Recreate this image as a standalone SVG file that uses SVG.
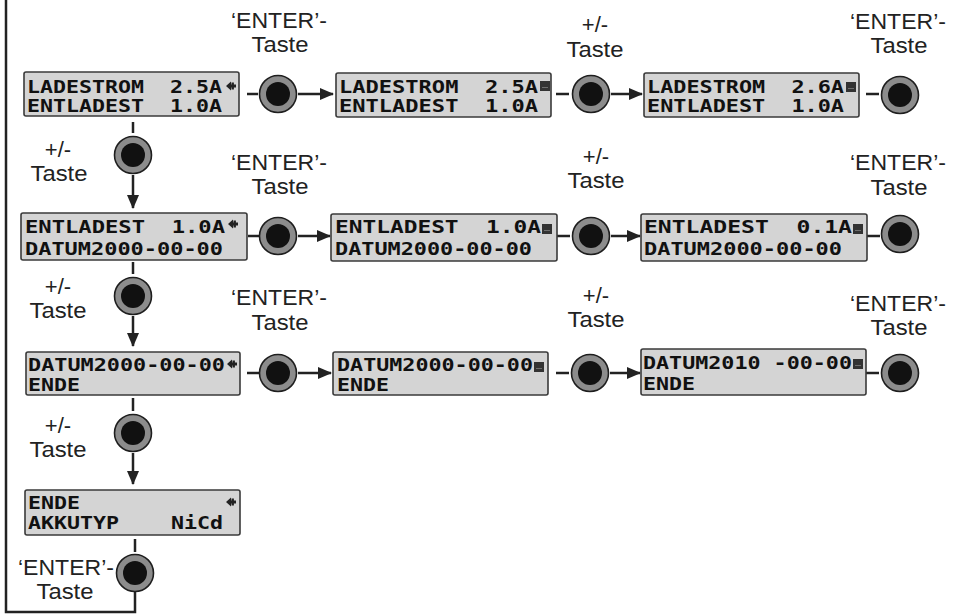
<svg xmlns="http://www.w3.org/2000/svg" xmlns:xlink="http://www.w3.org/1999/xlink" width="960" height="615" viewBox="0 0 960 615">
<style>
.lcd{fill:#d4d4d4;stroke:#3a3a3a;stroke-width:1.6}
.lt{font-family:"DejaVu Sans Mono","Liberation Mono",monospace;font-weight:bold;font-size:18.5px;fill:#111}
.lbl{font-family:"Liberation Sans",Arial,sans-serif;font-size:22px;fill:#222;text-anchor:middle}
.bo{fill:#8c8c8c;stroke:#1e1e1e;stroke-width:1.6}
.bi{fill:#111}
.ln{stroke:#222;stroke-width:2.5;fill:none}
.ar{stroke:#222;stroke-width:2.5;fill:none;marker-end:url(#ah)}
</style>
<defs>
<marker id="ah" markerUnits="userSpaceOnUse" markerWidth="14" markerHeight="12" refX="13" refY="6" orient="auto" viewBox="0 0 14 12">
<path d="M0,0 L14,6 L0,12 Z" fill="#222"/>
</marker>
<g id="cur"><path d="M0,0 L5,-4.5 L5,-1.4 L10,-1.4 L10,1.4 L5,1.4 L5,4.5 Z" fill="#222"/><rect x="5.5" y="-3.5" width="2.4" height="7" fill="#222"/></g>
<g id="sq"><rect x="0" y="0" width="10" height="10" fill="#333"/><rect x="2.5" y="6" width="1" height="1" fill="#aaa"/><rect x="4.5" y="6" width="1" height="1" fill="#aaa"/><rect x="6.5" y="6" width="1" height="1" fill="#aaa"/></g>
<g id="btn"><circle r="18.5" class="bo"/><circle r="12" class="bi"/></g>
</defs>

<g id="connectors">
<path class="ln" d="M6,0 V612 H135 V592"/>
<line class="ln" x1="247" y1="94" x2="258" y2="94"/>
<line class="ar" x1="298" y1="94" x2="333" y2="94"/>
<line class="ln" x1="556" y1="94" x2="569" y2="94"/>
<line class="ar" x1="611" y1="94" x2="642" y2="94"/>
<line class="ln" x1="866" y1="94" x2="879" y2="94"/>
<line class="ln" x1="133" y1="122" x2="133" y2="133"/>
<line class="ar" x1="133" y1="175" x2="133" y2="208"/>
<line class="ln" x1="248" y1="236" x2="259" y2="236"/>
<line class="ar" x1="298" y1="236" x2="330" y2="236"/>
<line class="ln" x1="557" y1="236" x2="570" y2="236"/>
<line class="ar" x1="611" y1="236" x2="640" y2="236"/>
<line class="ln" x1="867" y1="236" x2="880" y2="236"/>
<line class="ln" x1="133" y1="262" x2="133" y2="274"/>
<line class="ar" x1="133" y1="316" x2="133" y2="346"/>
<line class="ln" x1="247" y1="373" x2="259" y2="373"/>
<line class="ar" x1="298" y1="373" x2="331" y2="373"/>
<line class="ln" x1="556" y1="373" x2="569" y2="373"/>
<line class="ar" x1="610" y1="373" x2="640" y2="373"/>
<line class="ln" x1="866" y1="373" x2="879" y2="373"/>
<line class="ln" x1="133" y1="398" x2="133" y2="411"/>
<line class="ar" x1="133" y1="453" x2="133" y2="484"/>
<line class="ln" x1="135" y1="539" x2="135" y2="552"/>
</g>

<g id="lcd-r1c1"><rect class="lcd" x="24" y="72" width="215" height="44" rx="2"/>
<text class="lt" x="27" y="93" textLength="195" lengthAdjust="spacingAndGlyphs" xml:space="preserve">LADESTROM  2.5A</text>
<text class="lt" x="27" y="112" textLength="195" lengthAdjust="spacingAndGlyphs" xml:space="preserve">ENTLADEST  1.0A</text>
<use xlink:href="#cur" x="226" y="86"/></g>
<g id="btn-r1c1"><use xlink:href="#btn" x="278" y="94"/>
<text class="lbl" x="279" y="28" textLength="96" lengthAdjust="spacingAndGlyphs">‘ENTER’-</text><text class="lbl" x="280" y="52" textLength="57" lengthAdjust="spacingAndGlyphs">Taste</text></g>
<g id="lcd-r1c2"><rect class="lcd" x="336" y="73" width="215" height="44" rx="2"/>
<text class="lt" x="339" y="93" textLength="199" lengthAdjust="spacingAndGlyphs" xml:space="preserve">LADESTROM  2.5A</text>
<text class="lt" x="339" y="112" textLength="199" lengthAdjust="spacingAndGlyphs" xml:space="preserve">ENTLADEST  1.0A</text>
<use xlink:href="#sq" x="540" y="81"/></g>
<g id="btn-r1c2"><use xlink:href="#btn" x="591" y="94"/>
<text class="lbl" x="595" y="32">+/-</text><text class="lbl" x="595" y="57" textLength="57" lengthAdjust="spacingAndGlyphs">Taste</text></g>
<g id="lcd-r1c3"><rect class="lcd" x="644" y="73" width="215" height="44" rx="2"/>
<text class="lt" x="647" y="93" textLength="197" lengthAdjust="spacingAndGlyphs" xml:space="preserve">LADESTROM  2.6A</text>
<text class="lt" x="647" y="112" textLength="197" lengthAdjust="spacingAndGlyphs" xml:space="preserve">ENTLADEST  1.0A</text>
<use xlink:href="#sq" x="846" y="82"/></g>
<g id="btn-r1c3"><use xlink:href="#btn" x="900" y="95"/>
<text class="lbl" x="898" y="29" textLength="96" lengthAdjust="spacingAndGlyphs">‘ENTER’-</text><text class="lbl" x="899" y="53" textLength="57" lengthAdjust="spacingAndGlyphs">Taste</text></g>

<g id="btn-v1"><use xlink:href="#btn" x="133" y="155"/>
<text class="lbl" x="58" y="157">+/-</text><text class="lbl" x="59" y="181" textLength="57" lengthAdjust="spacingAndGlyphs">Taste</text></g>

<g id="lcd-r2c1"><rect class="lcd" x="21" y="213" width="226" height="47" rx="2"/>
<text class="lt" x="25" y="233" textLength="200" lengthAdjust="spacingAndGlyphs" xml:space="preserve">ENTLADEST  1.0A</text>
<text class="lt" x="25" y="255" textLength="198" lengthAdjust="spacingAndGlyphs">DATUM2000-00-00</text>
<use xlink:href="#cur" x="228" y="224"/></g>
<g id="btn-r2c1"><use xlink:href="#btn" x="278" y="236"/>
<text class="lbl" x="279" y="170" textLength="96" lengthAdjust="spacingAndGlyphs">‘ENTER’-</text><text class="lbl" x="280" y="194" textLength="57" lengthAdjust="spacingAndGlyphs">Taste</text></g>
<g id="lcd-r2c2"><rect class="lcd" x="331" y="214" width="226" height="47" rx="2"/>
<text class="lt" x="335" y="233" textLength="206" lengthAdjust="spacingAndGlyphs" xml:space="preserve">ENTLADEST  1.0A</text>
<text class="lt" x="335" y="255" textLength="197" lengthAdjust="spacingAndGlyphs">DATUM2000-00-00</text>
<use xlink:href="#sq" x="542" y="224"/></g>
<g id="btn-r2c2"><use xlink:href="#btn" x="591" y="236"/>
<text class="lbl" x="596" y="164">+/-</text><text class="lbl" x="596" y="188" textLength="57" lengthAdjust="spacingAndGlyphs">Taste</text></g>
<g id="lcd-r2c3"><rect class="lcd" x="641" y="214" width="226" height="47" rx="2"/>
<text class="lt" x="644" y="233" textLength="208" lengthAdjust="spacingAndGlyphs" xml:space="preserve">ENTLADEST  0.1A</text>
<text class="lt" x="644" y="255" textLength="198" lengthAdjust="spacingAndGlyphs">DATUM2000-00-00</text>
<use xlink:href="#sq" x="853" y="224"/></g>
<g id="btn-r2c3"><use xlink:href="#btn" x="900" y="234"/>
<text class="lbl" x="898" y="170" textLength="96" lengthAdjust="spacingAndGlyphs">‘ENTER’-</text><text class="lbl" x="899" y="195" textLength="57" lengthAdjust="spacingAndGlyphs">Taste</text></g>

<g id="btn-v2"><use xlink:href="#btn" x="133" y="296"/>
<text class="lbl" x="58" y="294">+/-</text><text class="lbl" x="58" y="318" textLength="57" lengthAdjust="spacingAndGlyphs">Taste</text></g>

<g id="lcd-r3c1"><rect class="lcd" x="26" y="352" width="214" height="43" rx="2"/>
<text class="lt" x="28" y="371" textLength="197" lengthAdjust="spacingAndGlyphs">DATUM2000-00-00</text>
<text class="lt" x="28" y="391" textLength="52" lengthAdjust="spacingAndGlyphs">ENDE</text>
<use xlink:href="#cur" x="227" y="364"/></g>
<g id="btn-r3c1"><use xlink:href="#btn" x="278" y="373"/>
<text class="lbl" x="279" y="305" textLength="96" lengthAdjust="spacingAndGlyphs">‘ENTER’-</text><text class="lbl" x="280" y="330" textLength="57" lengthAdjust="spacingAndGlyphs">Taste</text></g>
<g id="lcd-r3c2"><rect class="lcd" x="333" y="352" width="215" height="43" rx="2"/>
<text class="lt" x="337" y="371" textLength="196" lengthAdjust="spacingAndGlyphs">DATUM2000-00-00</text>
<text class="lt" x="337" y="391" textLength="52" lengthAdjust="spacingAndGlyphs">ENDE</text>
<use xlink:href="#sq" x="534" y="362"/></g>
<g id="btn-r3c2"><use xlink:href="#btn" x="590" y="373"/>
<text class="lbl" x="596" y="303">+/-</text><text class="lbl" x="596" y="327" textLength="57" lengthAdjust="spacingAndGlyphs">Taste</text></g>
<g id="lcd-r3c3"><rect class="lcd" x="641" y="349" width="225" height="46" rx="2"/>
<text class="lt" x="643" y="369" textLength="209" lengthAdjust="spacingAndGlyphs" xml:space="preserve">DATUM2010 -00-00</text>
<text class="lt" x="643" y="390" textLength="52" lengthAdjust="spacingAndGlyphs">ENDE</text>
<use xlink:href="#sq" x="853" y="359"/></g>
<g id="btn-r3c3"><use xlink:href="#btn" x="900" y="373"/>
<text class="lbl" x="898" y="311" textLength="96" lengthAdjust="spacingAndGlyphs">‘ENTER’-</text><text class="lbl" x="899" y="335" textLength="57" lengthAdjust="spacingAndGlyphs">Taste</text></g>

<g id="btn-v3"><use xlink:href="#btn" x="133" y="433"/>
<text class="lbl" x="58" y="433">+/-</text><text class="lbl" x="58" y="457" textLength="57" lengthAdjust="spacingAndGlyphs">Taste</text></g>

<g id="lcd-r4c1"><rect class="lcd" x="25" y="490" width="215" height="45" rx="2"/>
<text class="lt" x="28" y="509" textLength="52" lengthAdjust="spacingAndGlyphs">ENDE</text>
<text class="lt" x="28" y="529" textLength="195" lengthAdjust="spacingAndGlyphs" xml:space="preserve">AKKUTYP    NiCd</text>
<use xlink:href="#cur" x="226" y="502"/></g>
<g id="btn-v4"><use xlink:href="#btn" x="135" y="573"/>
<text class="lbl" x="66" y="575" textLength="96" lengthAdjust="spacingAndGlyphs">‘ENTER’-</text><text class="lbl" x="65" y="599" textLength="57" lengthAdjust="spacingAndGlyphs">Taste</text></g>
</svg>
